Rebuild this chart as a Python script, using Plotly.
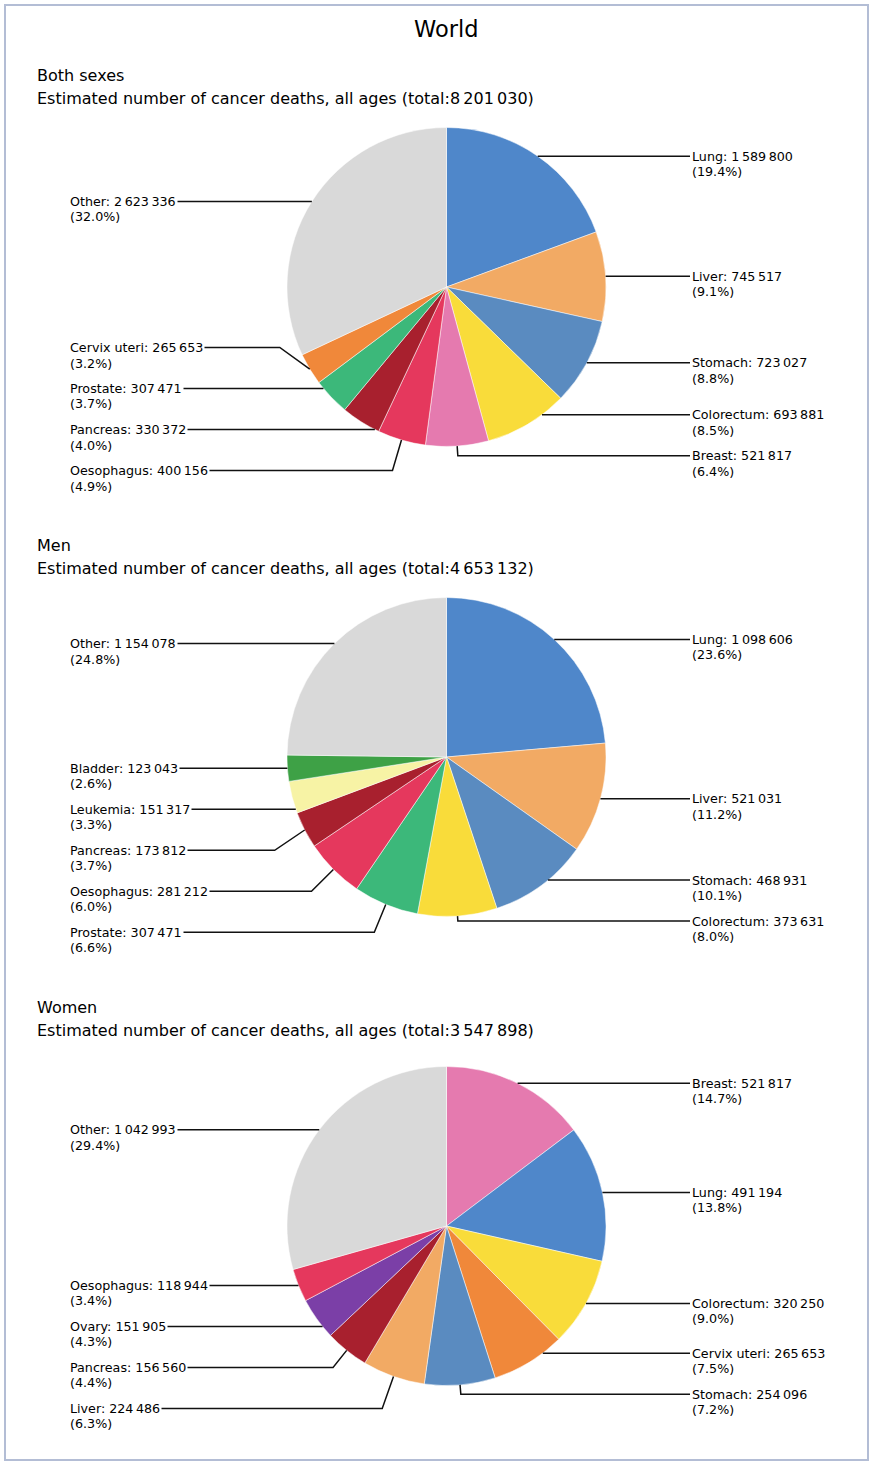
import math
import plotly.graph_objects as go

W, H = 874, 1465

# ---------------- data ----------------
both_labels = ["Lung", "Liver", "Stomach", "Colorectum", "Breast", "Oesophagus",
               "Pancreas", "Prostate", "Cervix uteri", "Other"]
both_values = [1589800, 745517, 723027, 693881, 521817, 400156,
               330372, 307471, 265653, 2623336]

men_labels = ["Lung", "Liver", "Stomach", "Colorectum", "Prostate", "Oesophagus",
              "Pancreas", "Leukemia", "Bladder", "Other"]
men_values = [1098606, 521031, 468931, 373631, 307471, 281212,
              173812, 151317, 123043, 1154078]

women_labels = ["Breast", "Lung", "Colorectum", "Cervix uteri", "Stomach", "Liver",
                "Pancreas", "Ovary", "Oesophagus", "Other"]
women_values = [521817, 491194, 320250, 265653, 254096, 224486,
                156560, 151905, 118944, 1042993]

panel_titles = ["Both sexes", "Men", "Women"]
main_title = "World"
subtitle = "Estimated number of cancer deaths, all ages"

COLORS = {
    "Lung": "#4f87ca",
    "Liver": "#f2aa64",
    "Stomach": "#5a8bc0",
    "Colorectum": "#f9dc3a",
    "Breast": "#e57aaf",
    "Oesophagus": "#e5385d",
    "Pancreas": "#a8202e",
    "Prostate": "#3cb87a",
    "Cervix uteri": "#f0883a",
    "Other": "#d9d9d9",
    "Leukemia": "#f7f3a5",
    "Bladder": "#3ea146",
    "Ovary": "#7b3fa7",
}

PANELS = [
    (panel_titles[0], both_labels, both_values),
    (panel_titles[1], men_labels, men_values),
    (panel_titles[2], women_labels, women_values),
]

# ---------------- layout constants ----------------
CX = 446.5
CYS = [287, 757, 1226]
R = 159.5
HEAD_Y = [76, 545, 1007]
HEAD_X = 35
LEFT_X = 68
RIGHT_X = 690
GAP = 41
FONT = "DejaVu Sans"
TXT = "#000000"
LABEL_SIZE = 12.7
HEAD_SIZE = 16
LINE_COLOR = "#111111"


def px(x):
    return x / W


def py(y):
    return 1 - y / H


def fmt(n):
    return f"{n:,}".replace(",", "\u2009")


def place_centered(grp):
    clusters = [[it] for it in grp]

    def top(cl):
        return sum(it["ay"] - k * GAP for k, it in enumerate(cl)) / len(cl)

    changed = True
    while changed:
        changed = False
        for k in range(len(clusters) - 1):
            a, b = clusters[k], clusters[k + 1]
            if top(a) + len(a) * GAP > top(b):
                clusters[k] = a + b
                del clusters[k + 1]
                changed = True
                break
    for cl in clusters:
        t = top(cl)
        for k, it in enumerate(cl):
            it["ly"] = t + k * GAP


def place_pushdown(grp, bottom_limit):
    prev = -1e9
    for it in grp:
        it["ly"] = max(it["ay"], prev + GAP)
        prev = it["ly"]
    if grp and grp[-1]["ly"] > bottom_limit:
        grp[-1]["ly"] = bottom_limit
        for k in range(len(grp) - 2, -1, -1):
            grp[k]["ly"] = min(grp[k]["ly"], grp[k + 1]["ly"] - GAP)


fig = go.Figure()
shapes = []
annotations = []

annotations.append(dict(text=main_title, x=px(446), y=py(29), xref="paper", yref="paper",
                        xanchor="center", yanchor="middle", showarrow=False,
                        font=dict(family=FONT, size=22.5, color=TXT)))

for i, (title, labels, values) in enumerate(PANELS):
    cy = CYS[i]
    total = sum(values)
    fig.add_trace(go.Pie(
        labels=labels, values=values, sort=False, direction="clockwise", rotation=0,
        marker=dict(colors=[COLORS[l] for l in labels], line=dict(color="white", width=0.5)),
        textinfo="none", hoverinfo="skip", showlegend=False,
        domain=dict(x=[px(CX - R), px(CX + R)], y=[py(cy + R), py(cy - R)]),
    ))

    annotations.append(dict(text=title, x=px(HEAD_X), y=py(HEAD_Y[i]), xref="paper", yref="paper",
                            xanchor="left", yanchor="middle", showarrow=False,
                            font=dict(family=FONT, size=HEAD_SIZE, color=TXT)))
    annotations.append(dict(text=f"{subtitle} (total:{fmt(total)})", x=px(HEAD_X), y=py(HEAD_Y[i] + 23),
                            xref="paper", yref="paper", xanchor="left", yanchor="middle", showarrow=False,
                            font=dict(family=FONT, size=HEAD_SIZE, color=TXT)))

    # anchors at mid-angle on the pie edge
    cum = 0
    items = []
    for lab, v in zip(labels, values):
        a0 = 360.0 * cum / total
        a1 = 360.0 * (cum + v) / total
        th = math.radians((a0 + a1) / 2.0)
        cum += v
        ax = CX + R * math.sin(th)
        ay = cy - R * math.cos(th)
        side = 1 if math.sin(th) >= 0 else -1
        items.append(dict(label=lab, value=v, pct=100.0 * v / total, th=th, a0=a0, a1=a1,
                          ax=ax, ay=ay, side=side))

    right = sorted([it for it in items if it["side"] == 1], key=lambda d: d["ay"])
    left = sorted([it for it in items if it["side"] == -1], key=lambda d: d["ay"])
    place_centered(right)
    place_pushdown(left, cy + R + 24)

    for it in items:
        ax, ay, ly, side = it["ax"], it["ay"], it["ly"], it["side"]
        lx = RIGHT_X if side == 1 else LEFT_X + 6
        dy = ly - ay
        pts = None
        # horizontal line meets the slice edge directly if possible
        dyc = ly - cy
        if abs(dy) >= 1.5 and abs(dyc) < R:
            hx = CX + side * math.sqrt(R * R - dyc * dyc)
            ang = math.degrees(math.atan2(hx - CX, -(ly - cy))) % 360
            if it["a0"] + 1 < ang < it["a1"] - 1:
                pts = [(lx, ly), (hx, ly)]
        if pts is None:
            if abs(dy) < 1.5:
                ex = ax
            else:
                s, c = abs(math.sin(it["th"])), abs(math.cos(it["th"]))
                t = abs(dy) * (s / c if c > 1e-6 else 1e6)
                ex = ax + side * min(t, 30)
            pts = [(lx, ly), (ex, ly), (ax, ay)]
        path = "M " + " L ".join(f"{px(x)},{py(y)}" for x, y in pts)
        shapes.append(dict(type="path", path=path, xref="paper", yref="paper",
                           line=dict(color=LINE_COLOR, width=1.5), layer="above"))
        tx = RIGHT_X if side == 1 else LEFT_X
        annotations.append(dict(text=f"{it['label']}: {fmt(it['value'])}", x=px(tx), y=py(ly),
                                xref="paper", yref="paper", xanchor="left", yanchor="middle",
                                showarrow=False, bgcolor="white", borderpad=1,
                                font=dict(family=FONT, size=LABEL_SIZE, color=TXT)))
        annotations.append(dict(text=f"({it['pct']:.1f}%)", x=px(tx), y=py(ly + 15.5),
                                xref="paper", yref="paper", xanchor="left", yanchor="middle",
                                showarrow=False,
                                font=dict(family=FONT, size=LABEL_SIZE, color=TXT)))

# frame
shapes.append(dict(type="rect", xref="paper", yref="paper",
                   x0=px(5), x1=px(868), y0=py(1460), y1=py(5),
                   line=dict(color="#b3bdd5", width=2), layer="below"))

fig.update_layout(width=W, height=H, autosize=False,
                  margin=dict(l=0, r=0, t=0, b=0),
                  paper_bgcolor="white", plot_bgcolor="white",
                  shapes=shapes, annotations=annotations)

fig.write_html("out.html")
